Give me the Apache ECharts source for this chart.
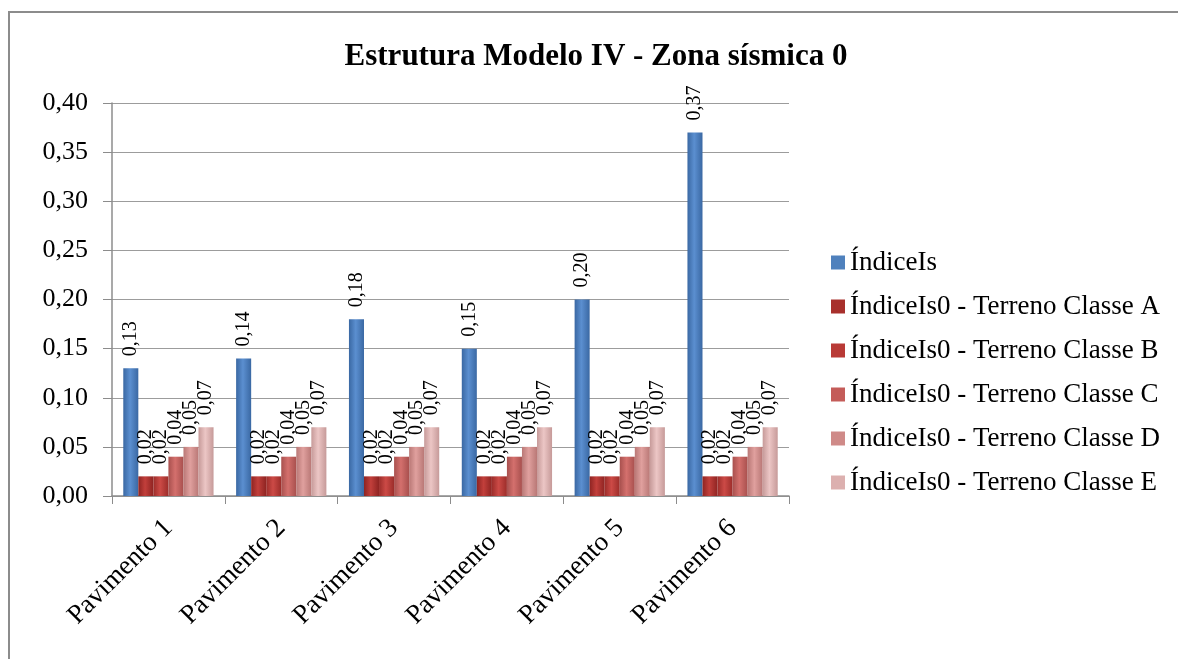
<!DOCTYPE html>
<html>
<head>
<meta charset="utf-8">
<script src="https://cdn.jsdelivr.net/npm/echarts@6/dist/echarts.min.js"></script>
<style>
  html, body { margin: 0; padding: 0; background: #ffffff; }
  #chart { width: 1178px; height: 659px; }
</style>
</head>
<body>
<div id="chart"></div>
<script>
// Floors of the structure
const categories = ['Pavimento 1', 'Pavimento 2', 'Pavimento 3', 'Pavimento 4', 'Pavimento 5', 'Pavimento 6'];

// Series values
const indiceIs   = [0.13, 0.14, 0.18, 0.15, 0.20, 0.37];
const classeA    = [0.02, 0.02, 0.02, 0.02, 0.02, 0.02];
const classeB    = [0.02, 0.02, 0.02, 0.02, 0.02, 0.02];
const classeC    = [0.04, 0.04, 0.04, 0.04, 0.04, 0.04];
const classeD    = [0.05, 0.05, 0.05, 0.05, 0.05, 0.05];
const classeE    = [0.07, 0.07, 0.07, 0.07, 0.07, 0.07];

const seriesNames = [
  'ÍndiceIs',
  'ÍndiceIs0 - Terreno Classe A',
  'ÍndiceIs0 - Terreno Classe B',
  'ÍndiceIs0 - Terreno Classe C',
  'ÍndiceIs0 - Terreno Classe D',
  'ÍndiceIs0 - Terreno Classe E'
];
const seriesData = [indiceIs, classeA, classeB, classeC, classeD, classeE];

// Base colours with a darker edge and lighter centre for a rounded look
const palette = [
  { edge: '#3a68a3', mid: '#5b8fd0', legend: '#4f81bd' },
  { edge: '#8e2422', mid: '#c23f3b', legend: '#a8302c' },
  { edge: '#9c2d2a', mid: '#cc4a46', legend: '#b93a36' },
  { edge: '#a8504e', mid: '#d4706d', legend: '#c45c59' },
  { edge: '#b97876', mid: '#e0a09e', legend: '#cf8a88' },
  { edge: '#c69a99', mid: '#ecc6c5', legend: '#dcb0af' }
];

const serif = '"Liberation Serif", "DejaVu Serif", serif';

const fmt = v => v.toFixed(2).replace('.', ',');

const series = seriesData.map((data, i) => ({
  name: seriesNames[i],
  type: 'bar',
  data: data,
  barGap: '0%',
  barCategoryGap: '20%',
  itemStyle: {
    color: new echarts.graphic.LinearGradient(0, 0, 1, 0, [
      { offset: 0, color: palette[i].edge },
      { offset: 0.45, color: palette[i].mid },
      { offset: 1, color: palette[i].edge }
    ])
  },
  label: {
    show: true,
    position: 'top',
    rotate: 90,
    align: 'left',
    verticalAlign: 'middle',
    distance: 12,
    fontFamily: serif,
    fontSize: 20,
    color: '#000',
    formatter: p => fmt(p.value)
  }
}));

const chart = echarts.init(document.getElementById('chart'), null, { renderer: 'canvas' });
chart.setOption({
  animation: false,
  backgroundColor: '#ffffff',
  graphic: [{
    type: 'rect',
    shape: { x: 9, y: 12, width: 1200, height: 700 },
    style: { fill: 'none', stroke: '#8c8c8c', lineWidth: 2 },
    silent: true,
    z: -1
  }],
  title: {
    text: 'Estrutura Modelo IV - Zona sísmica 0',
    left: 591,
    textAlign: 'center',
    top: 36,
    textStyle: { fontFamily: serif, fontWeight: 'bold', fontSize: 31, color: '#000' }
  },
  legend: {
    orient: 'vertical',
    left: 826,
    top: 244,
    itemWidth: 14,
    itemHeight: 14,
    itemGap: 17,
    itemStyle: { borderWidth: 0 },
    icon: 'rect',
    textStyle: { fontFamily: serif, fontSize: 27, color: '#000' },
    data: seriesNames.map((n, i) => ({ name: n, itemStyle: { color: palette[i].legend } }))
  },
  grid: { left: 112, right: 389, top: 103, bottom: 163, containLabel: false },
  xAxis: {
    type: 'category',
    data: categories,
    axisLine: { lineStyle: { color: '#8c8c8c', width: 1.5 } },
    axisTick: { show: true, length: 8, lineStyle: { color: '#8c8c8c' } },
    axisLabel: {
      rotate: 45,
      margin: 28,
      fontFamily: serif,
      fontSize: 27,
      color: '#000'
    }
  },
  yAxis: {
    type: 'value',
    min: 0,
    max: 0.4,
    interval: 0.05,
    axisLine: { show: true, lineStyle: { color: '#8c8c8c', width: 1.5 } },
    axisTick: { show: true, length: 9, lineStyle: { color: '#8c8c8c' } },
    splitLine: { lineStyle: { color: '#9c9c9c', width: 1.2 } },
    axisLabel: {
      margin: 24,
      fontFamily: serif,
      fontSize: 26,
      color: '#000',
      formatter: v => fmt(v)
    }
  },
  series: series
});
</script>
</body>
</html>
